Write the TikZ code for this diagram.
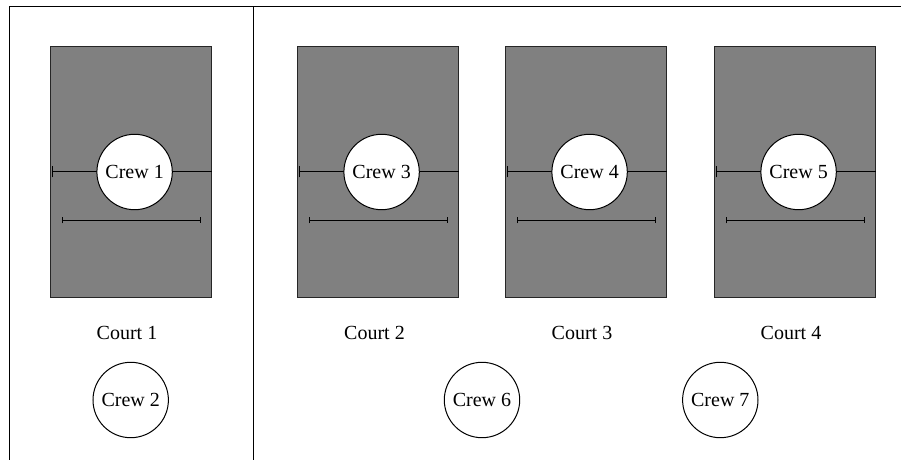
\documentclass[tikz,border=0pt]{standalone}
\usepackage{fontspec}
\setmainfont{Liberation Serif}
\usetikzlibrary{arrows.meta}
\begin{document}
\begin{tikzpicture}[x=0.5pt,y=-0.5pt,
  court/.style={draw=black!85, fill=black!50, line width=0.5pt, minimum width=80.5pt, minimum height=125.5pt, inner sep=0pt, anchor=north west},
  crew/.style={circle, draw, fill=white, line width=0.5pt, minimum size=37.7pt, inner sep=0pt, font=\fontsize{10}{12}\selectfont},
  lbl/.style={font=\fontsize{10}{12}\selectfont, inner sep=0pt},
  frame/.style={line width=0.5pt},
  netline/.style={{Bar[width=5.5pt]}-, line width=0.5pt},
  serveline/.style={{Bar[width=3pt]}-{Bar[width=3pt]}, line width=0.5pt}]
\useasboundingbox (0,0) rectangle (901,460);
% frame
\draw[frame] (9,460) -- (9,7) -- (901,7);
\draw[frame] (253.5,7) -- (253.5,460);
% courts
\node[court] (c1) at (50,46) {};
\node[court] (c2) at (297,46) {};
\node[court] (c3) at (505,46) {};
\node[court] (c4) at (714,46) {};
\foreach \c/\k in {c1/1,c2/3,c3/4,c4/5}{
  \coordinate (\c nl) at ([xshift=1.15pt]\c.west);
  \coordinate (\c sl) at ([xshift=6.2pt,yshift=-24.2pt]\c.west);
  \coordinate (\c sr) at ([xshift=-5.6pt,yshift=-24.2pt]\c.east);
  \draw[netline] (\c nl) -- (\c.east);
  \draw[serveline] (\c sl) -- (\c sr);
  \node[crew] (k\k) at ([xshift=1.8pt]\c.center) {Crew \k};
}
% labels
\node[lbl] (l1) at (127,333) {Court 1};
\node[lbl] (l2) at (374.5,333) {Court 2};
\node[lbl] (l3) at (582,333) {Court 3};
\node[lbl] (l4) at (791,333) {Court 4};
% waiting crews
\node[crew] (k2) at (130.7,400) {Crew 2};
\node[crew] (k6) at (482,400) {Crew 6};
\node[crew] (k7) at (720.3,400) {Crew 7};
\end{tikzpicture}
\end{document}
